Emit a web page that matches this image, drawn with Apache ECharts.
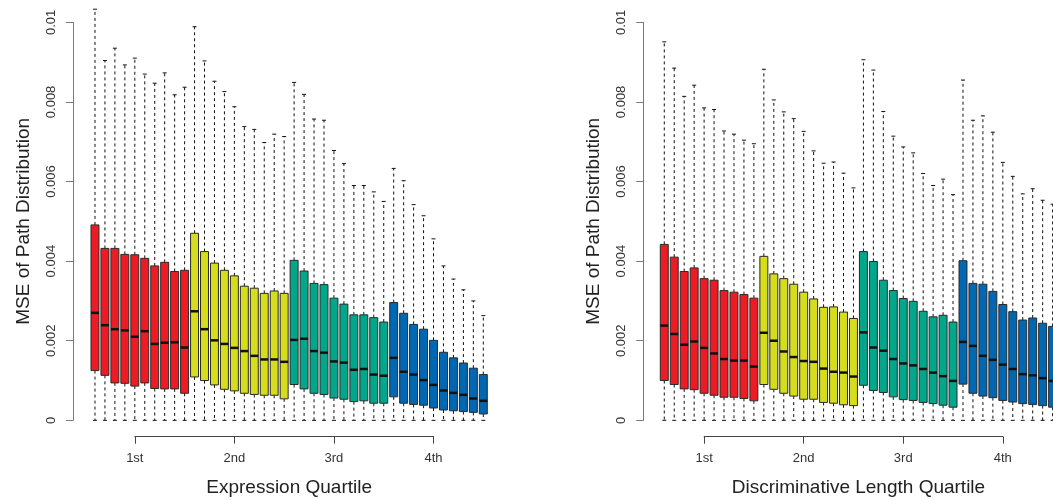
<!DOCTYPE html>
<html>
<head>
<meta charset="utf-8">
<script src="https://cdn.jsdelivr.net/npm/echarts@6/dist/echarts.min.js"></script>
<style>
  html, body { margin: 0; padding: 0; background: #fff; }
  #chart { width: 1053px; height: 500px; }
</style>
</head>
<body>
<div id="chart"></div>
<script>
// Box positions (1..40), ten bins per quartile
const positions = [1,2,3,4,5,6,7,8,9,10,11,12,13,14,15,16,17,18,19,20,
                   21,22,23,24,25,26,27,28,29,30,31,32,33,34,35,36,37,38,39,40];
const quartileTicks = [5, 15, 25, 35];
const quartileLabels = ['1st', '2nd', '3rd', '4th'];
const quartileColors = ['#ED1C24', '#D5DD1C', '#00A78B', '#0067B3'];
const yTickLabels = ['0', '0.002', '0.004', '0.006', '0.008', '0.01'];

// Left panel: grouped by expression quartile
const exprMin = [0,0,0,0,0,0,0,0,0,0, 0,0,0,0,0,0,0,0,0,0, 0,0,0,0,0,0,0,0,0,0, 0,0,0,0,0,0,0,0,0,0];
const exprQ1 = [0.00125,0.00113,0.00094,0.00093,0.00086,0.00094,0.00080,0.00079,0.00079,0.00068,
                0.00109,0.00100,0.00089,0.00078,0.00074,0.00068,0.00065,0.00063,0.00063,0.00054,
                0.00090,0.00079,0.00068,0.00065,0.00056,0.00053,0.00047,0.00049,0.00043,0.00043,
                0.00059,0.00043,0.00040,0.00038,0.00031,0.00026,0.00024,0.00022,0.00020,0.00016];
const exprMed = [0.00270,0.00239,0.00229,0.00226,0.00210,0.00224,0.00192,0.00195,0.00196,0.00183,
                 0.00274,0.00229,0.00201,0.00192,0.00182,0.00174,0.00162,0.00153,0.00153,0.00147,
                 0.00202,0.00205,0.00174,0.00170,0.00148,0.00145,0.00127,0.00129,0.00115,0.00112,
                 0.00157,0.00122,0.00115,0.00101,0.00089,0.00075,0.00069,0.00064,0.00055,0.00049];
const exprQ3 = [0.00491,0.00432,0.00432,0.00417,0.00416,0.00407,0.00388,0.00397,0.00374,0.00377,
                0.00470,0.00424,0.00395,0.00377,0.00363,0.00337,0.00332,0.00319,0.00325,0.00319,
                0.00402,0.00375,0.00344,0.00341,0.00307,0.00292,0.00265,0.00265,0.00258,0.00247,
                0.00296,0.00269,0.00241,0.00229,0.00201,0.00171,0.00157,0.00144,0.00131,0.00115];
const exprMax = [0.01033,0.00904,0.00935,0.00893,0.00910,0.00870,0.00847,0.00873,0.00818,0.00837,
                 0.00989,0.00903,0.00852,0.00826,0.00788,0.00738,0.00731,0.00698,0.00719,0.00713,
                 0.00849,0.00819,0.00757,0.00754,0.00678,0.00645,0.00590,0.00590,0.00574,0.00550,
                 0.00633,0.00602,0.00542,0.00514,0.00456,0.00388,0.00355,0.00328,0.00300,0.00263];

// Right panel: grouped by discriminative length quartile
const lenMin = [0,0,0,0,0,0,0,0,0,0, 0,0,0,0,0,0,0,0,0,0, 0,0,0,0,0,0,0,0,0,0, 0,0,0,0,0,0,0,0,0,0];
const lenQ1 = [0.00100,0.00090,0.00079,0.00077,0.00068,0.00063,0.00058,0.00058,0.00055,0.00049,
               0.00090,0.00078,0.00068,0.00061,0.00053,0.00053,0.00045,0.00043,0.00039,0.00037,
               0.00088,0.00075,0.00070,0.00059,0.00052,0.00050,0.00045,0.00042,0.00038,0.00033,
               0.00091,0.00068,0.00061,0.00057,0.00050,0.00046,0.00042,0.00040,0.00037,0.00033];
const lenMed = [0.00238,0.00217,0.00190,0.00198,0.00182,0.00168,0.00154,0.00150,0.00150,0.00135,
                0.00220,0.00200,0.00173,0.00159,0.00149,0.00147,0.00130,0.00122,0.00120,0.00110,
                0.00221,0.00183,0.00175,0.00154,0.00143,0.00138,0.00129,0.00120,0.00111,0.00099,
                0.00197,0.00187,0.00162,0.00152,0.00140,0.00129,0.00116,0.00113,0.00106,0.00099];
const lenQ3 = [0.00442,0.00410,0.00374,0.00383,0.00356,0.00352,0.00326,0.00322,0.00316,0.00307,
               0.00412,0.00368,0.00356,0.00342,0.00322,0.00305,0.00284,0.00285,0.00272,0.00256,
               0.00424,0.00399,0.00352,0.00326,0.00306,0.00299,0.00274,0.00260,0.00264,0.00247,
               0.00401,0.00344,0.00342,0.00324,0.00291,0.00273,0.00252,0.00257,0.00244,0.00236];
const lenMax = [0.00951,0.00885,0.00814,0.00842,0.00785,0.00781,0.00727,0.00719,0.00704,0.00695,
                0.00882,0.00805,0.00775,0.00758,0.00726,0.00677,0.00646,0.00649,0.00621,0.00584,
                0.00906,0.00880,0.00776,0.00714,0.00687,0.00672,0.00620,0.00590,0.00606,0.00567,
                0.00855,0.00754,0.00765,0.00724,0.00648,0.00613,0.00569,0.00582,0.00553,0.00543];

const FONT = "'Liberation Sans', Arial, Helvetica, sans-serif";

function boxRows(mins, q1s, meds, q3s, maxs) {
  return positions.map((p, i) => [p, mins[i], q1s[i], meds[i], q3s[i], maxs[i]]);
}

// R-style box: dashed whiskers with short staples, filled box, heavy median bar
function renderBox(params, api) {
  const k = api.value(0);
  const half = 0.4;
  const color = quartileColors[Math.floor((k - 1) / 10)];
  const cx = api.coord([k, 0])[0];
  const xL = api.coord([k - half, 0])[0];
  const xR = api.coord([k + half, 0])[0];
  const sL = api.coord([k - half / 2, 0])[0];
  const sR = api.coord([k + half / 2, 0])[0];
  const yLo = api.coord([k, api.value(1)])[1];
  const yQ1 = api.coord([k, api.value(2)])[1];
  const yMed = api.coord([k, api.value(3)])[1];
  const yQ3 = api.coord([k, api.value(4)])[1];
  const yHi = api.coord([k, api.value(5)])[1];
  const dash = { stroke: '#111', lineWidth: 1, lineDash: [3, 3] };
  const solid = { stroke: '#111', lineWidth: 1 };
  return {
    type: 'group',
    children: [
      { type: 'line', shape: { x1: cx, y1: yQ3, x2: cx, y2: yHi }, style: dash },
      { type: 'line', shape: { x1: cx, y1: yQ1, x2: cx, y2: yLo }, style: dash },
      { type: 'line', shape: { x1: sL, y1: yHi, x2: sR, y2: yHi }, style: solid },
      { type: 'line', shape: { x1: sL, y1: yLo, x2: sR, y2: yLo }, style: solid },
      { type: 'rect', shape: { x: xL, y: yQ3, width: xR - xL, height: yQ1 - yQ3 },
        style: { fill: color, stroke: '#2a2a2a', lineWidth: 1 } },
      { type: 'line', shape: { x1: xL, y1: yMed, x2: xR, y2: yMed },
        style: { stroke: '#111', lineWidth: 2.5 } }
    ]
  };
}

// pixel layout of the two panels
const step = 9.957;
const panels = [
  { left: 90.0, axisOffset: 17, title: 'Expression Quartile' },
  { left: 659.3, axisOffset: 16, title: 'Discriminative Length Quartile' }
];
const plotTop = 22.33, plotHeight = 398;

const grid = [], xAxis = [], yAxis = [];
panels.forEach((p, i) => {
  // data grid
  grid.push({ left: p.left, top: plotTop, width: 40 * step, height: plotHeight,
              outerBoundsMode: 'none', containLabel: false });
  // quartile axis grid spanning the labelled positions only
  grid.push({ left: p.left + 4.5 * step, top: 400, width: 30 * step, height: 36.7,
              outerBoundsMode: 'none', containLabel: false });

  xAxis.push({
    gridIndex: 2 * i, type: 'value', min: 0.5, max: 40.5,
    axisLine: { show: false }, axisTick: { show: false }, axisLabel: { show: false },
    splitLine: { show: false },
    name: p.title, nameLocation: 'middle', nameGap: 58,
    nameTextStyle: { fontSize: 19, color: '#222', fontFamily: FONT }
  });
  xAxis.push({
    gridIndex: 2 * i + 1, type: 'value', min: 5, max: 35, interval: 10,
    axisLine: { show: true, lineStyle: { color: '#444', width: 1 } },
    axisTick: { show: true, length: 7, lineStyle: { color: '#444', width: 1 } },
    axisLabel: {
      fontSize: 13, color: '#333', fontFamily: FONT, margin: 15,
      formatter: v => quartileLabels[quartileTicks.indexOf(v)] || ''
    },
    splitLine: { show: false }
  });

  yAxis.push({
    gridIndex: 2 * i, type: 'value', min: 0, max: 0.01, interval: 0.002,
    offset: p.axisOffset,
    axisLine: { show: true, lineStyle: { color: '#7a7a7a', width: 1 } },
    axisTick: { show: true, length: 7, lineStyle: { color: '#7a7a7a', width: 1 } },
    axisLabel: {
      rotate: 90, fontSize: 13, color: '#333', fontFamily: FONT, margin: 15,
      formatter: v => yTickLabels[Math.round(v / 0.002)]
    },
    splitLine: { show: false },
    name: 'MSE of Path Distribution', nameLocation: 'middle', nameRotate: 90, nameGap: 40,
    nameTextStyle: { fontSize: 19, color: '#222', fontFamily: FONT }
  });
  yAxis.push({ gridIndex: 2 * i + 1, type: 'value', min: 0, max: 1, show: false });
});

const chart = echarts.init(document.getElementById('chart'), null, { renderer: 'canvas' });
chart.setOption({
  animation: false,
  backgroundColor: '#fff',
  grid, xAxis, yAxis,
  series: [
    { type: 'custom', xAxisIndex: 0, yAxisIndex: 0, clip: false, renderItem: renderBox,
      data: boxRows(exprMin, exprQ1, exprMed, exprQ3, exprMax) },
    { type: 'custom', xAxisIndex: 2, yAxisIndex: 2, clip: false, renderItem: renderBox,
      data: boxRows(lenMin, lenQ1, lenMed, lenQ3, lenMax) }
  ]
});
</script>
</body>
</html>
